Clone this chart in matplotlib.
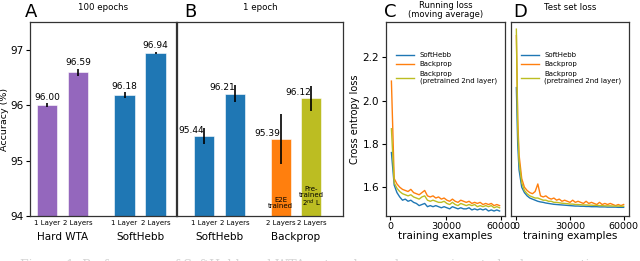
import matplotlib
import numpy as np

matplotlib.use("Agg")
import matplotlib.pyplot as plt
from matplotlib.transforms import blended_transform_factory

# panel A: 100 epochs
a_groups = ["Hard WTA", "SoftHebb"]
a_ticks = ["1 Layer", "2 Layers", "1 Layer", "2 Layers"]
a_values = [96.00, 96.59, 96.18, 96.94]
a_errors = [0.03, 0.07, 0.05, 0.02]
a_colors = ["#9467bd", "#9467bd", "#1f77b4", "#1f77b4"]

# panel B: 1 epoch
b_groups = ["SoftHebb", "Backprop"]
b_ticks = ["1 Layer", "2 Layers", "2 Layers", "2 Layers"]
b_values = [95.44, 96.21, 95.39, 96.12]
b_errors = [0.14, 0.15, 0.45, 0.22]
b_colors = ["#1f77b4", "#1f77b4", "#ff7f0e", "#bcbd22"]
b_inner = ["", "", "E2E\ntrained", "Pre-\ntrained\n2$^{nd}$ L"]

bar_pos = [0, 1, 2.5, 3.5]

# panel C: running loss (moving average)
run_x = np.arange(500, 60001, 1500)
run_softhebb = [1.76, 1.61, 1.575, 1.555, 1.54, 1.545, 1.535, 1.54, 1.53, 1.525,
                1.515, 1.52, 1.525, 1.51, 1.515, 1.51, 1.515, 1.51, 1.505, 1.51,
                1.505, 1.50, 1.51, 1.505, 1.50, 1.505, 1.50, 1.50, 1.505, 1.495,
                1.50, 1.495, 1.50, 1.495, 1.50, 1.49, 1.495, 1.49, 1.495, 1.49]
run_backprop = [2.09, 1.64, 1.615, 1.60, 1.59, 1.585, 1.58, 1.59, 1.575, 1.57,
                1.565, 1.575, 1.585, 1.56, 1.555, 1.56, 1.55, 1.555, 1.545, 1.55,
                1.54, 1.535, 1.545, 1.535, 1.53, 1.54, 1.535, 1.53, 1.535, 1.525,
                1.53, 1.525, 1.53, 1.52, 1.525, 1.52, 1.525, 1.515, 1.52, 1.515]
run_pretrained = [1.87, 1.62, 1.595, 1.58, 1.57, 1.565, 1.56, 1.565, 1.555, 1.55,
                  1.545, 1.555, 1.56, 1.54, 1.535, 1.54, 1.535, 1.53, 1.53, 1.535,
                  1.525, 1.52, 1.53, 1.52, 1.515, 1.525, 1.52, 1.515, 1.52, 1.515,
                  1.52, 1.51, 1.515, 1.51, 1.515, 1.51, 1.515, 1.505, 1.51, 1.505]

# panel D: test set loss
test_x = [0, 750, 1500, 3000] + list(range(4500, 60001, 1500))
test_softhebb = [2.06, 1.80, 1.68, 1.60, 1.575, 1.56, 1.55, 1.545, 1.54, 1.535,
                 1.532, 1.53, 1.527, 1.525, 1.523, 1.521, 1.52, 1.519, 1.518, 1.517,
                 1.516, 1.515, 1.514, 1.513, 1.513, 1.512, 1.512, 1.511, 1.511, 1.510,
                 1.510, 1.510, 1.509, 1.509, 1.509, 1.508, 1.508, 1.508, 1.508, 1.507,
                 1.507, 1.507]
test_backprop = [2.30, 1.92, 1.75, 1.64, 1.60, 1.585, 1.575, 1.57, 1.58, 1.615,
                 1.56, 1.555, 1.56, 1.55, 1.545, 1.55, 1.54, 1.545, 1.535, 1.54,
                 1.535, 1.53, 1.54, 1.53, 1.535, 1.53, 1.525, 1.535, 1.525, 1.53,
                 1.525, 1.52, 1.53, 1.52, 1.525, 1.52, 1.525, 1.52, 1.515, 1.52,
                 1.515, 1.52]
test_pretrained = [2.33, 1.88, 1.72, 1.62, 1.585, 1.57, 1.56, 1.555, 1.55, 1.55,
                   1.545, 1.54, 1.54, 1.535, 1.535, 1.53, 1.53, 1.528, 1.526, 1.525,
                   1.524, 1.522, 1.522, 1.52, 1.52, 1.519, 1.518, 1.518, 1.517, 1.517,
                   1.516, 1.516, 1.515, 1.515, 1.514, 1.514, 1.514, 1.513, 1.513, 1.513,
                   1.512, 1.512]

W, H = 640, 261


def add_axes(fig, x0, x1, y0=22, y1=216):
    return fig.add_axes([x0 / W, (H - y1) / H, (x1 - x0) / W, (y1 - y0) / H])


def style_spines(ax):
    for s in ax.spines.values():
        s.set_color("#333333")
        s.set_linewidth(0.9)


def bar_panel(ax, values, errors, colors, ticks, groups, xlim, label_mode):
    ax.bar(bar_pos, [v - 94 for v in values], bottom=94, width=0.65,
           color=colors, edgecolor="white", linewidth=0.4)
    ax.errorbar(bar_pos, values, yerr=errors, fmt="none", ecolor="black",
                elinewidth=1.2, capsize=0)
    for x, v, e in zip(bar_pos, values, errors):
        if label_mode == "center":
            ax.text(x, v + e + 0.03, f"{v:.2f}", ha="center", va="bottom", fontsize=6.5)
        else:
            ax.text(x, v + 0.02, f"{v:.2f}", ha="right", va="bottom", fontsize=6.5)
    ax.set_ylim(94, 97.5)
    ax.set_xlim(*xlim)
    ax.set_xticks(bar_pos)
    ax.set_xticklabels(ticks, fontsize=5)
    ax.tick_params(axis="x", length=0, pad=3)
    trans = blended_transform_factory(ax.transData, ax.transAxes)
    for g, (p0, p1) in zip(groups, [(0, 1), (2.5, 3.5)]):
        ax.text((p0 + p1) / 2, -0.108, g, transform=trans, ha="center", va="center",
                fontsize=7.5)
    style_spines(ax)


fig = plt.figure(figsize=(W / 100, H / 100), dpi=100)

ax_a = add_axes(fig, 30, 176)
bar_panel(ax_a, a_values, a_errors, a_colors, a_ticks, a_groups, (-0.55, 4.16), "center")
ax_a.set_yticks([94, 95, 96, 97])
ax_a.tick_params(axis="y", labelsize=7.5, length=3, pad=1.5)
ax_a.set_ylabel("Accuracy (%)", fontsize=6.8, labelpad=1)
ax_a.text(0.5, 1 + 14 / 194, "100 epochs", transform=ax_a.transAxes, ha="center",
          va="center", fontsize=6.2)

ax_b = add_axes(fig, 177, 343)
bar_panel(ax_b, b_values, b_errors, b_colors, b_ticks, b_groups, (-0.88, 4.53), "right")
ax_b.set_yticks([94, 95, 96, 97])
ax_b.tick_params(axis="y", labelleft=False, length=0)
for x, t in zip(bar_pos, b_inner):
    if t:
        ax_b.text(x, 94.12, t, ha="center", va="bottom", fontsize=5, linespacing=1.0)
ax_b.text(0.5, 1 + 14 / 194, "1 epoch", transform=ax_b.transAxes, ha="center",
          va="center", fontsize=6.2)

line_colors = ["#1f77b4", "#ff7f0e", "#bcbd22"]
line_labels = ["SoftHebb", "Backprop", "Backprop\n(pretrained 2nd layer)"]

ax_c = add_axes(fig, 386, 505)
ax_d = add_axes(fig, 511, 629)
for ax, xs, series in [
    (ax_c, run_x, [run_softhebb, run_backprop, run_pretrained]),
    (ax_d, test_x, [test_softhebb, test_backprop, test_pretrained]),
]:
    for ys, c, lab in zip(series, line_colors, line_labels):
        ax.plot(xs, ys, color=c, linewidth=1.0, label=lab)
    ax.set_ylim(1.467, 2.363)
    ax.set_xticks([0, 30000, 60000])
    ax.tick_params(axis="x", labelsize=6.8, length=3, pad=1.5)
    ax.set_xlabel("training examples", fontsize=7.5, labelpad=0)
    ax.legend(loc="upper left", bbox_to_anchor=(0.06, 0.86), frameon=False,
              fontsize=5, handlelength=2.6, handletextpad=0.8, labelspacing=0.5,
              borderaxespad=0)
    style_spines(ax)

ax_c.set_yticks([1.6, 1.8, 2.0, 2.2])
ax_c.tick_params(axis="y", labelsize=7.5, length=3, pad=2)
ax_c.set_ylabel("Cross entropy loss", fontsize=7, labelpad=2)
ax_c.text(0.5, 1 + 3 / 194, "Running loss\n(moving average)", transform=ax_c.transAxes,
          ha="center", va="bottom", fontsize=6, linespacing=1.0)
ax_d.set_yticks([1.6, 1.8, 2.0, 2.2])
ax_d.tick_params(axis="y", labelleft=False, length=0)
ax_d.text(0.5, 1 + 14 / 194, "Test set loss", transform=ax_d.transAxes, ha="center",
          va="center", fontsize=6.2)

for letter, x in [("A", 25), ("B", 184), ("C", 384), ("D", 513)]:
    fig.text(x / W, (H - 17) / H, letter, fontsize=13, ha="left", va="baseline")

# caption of the source figure, cut off by the crop
fig.text(20 / W, 2.5 / H, "Figure 1: Performance of SoftHebb and WTA networks, and comparison to backpropagation.",
         fontsize=9, color="#d4d4d4", family="serif", ha="left", va="top")

fig.savefig("out.png", dpi=100)
